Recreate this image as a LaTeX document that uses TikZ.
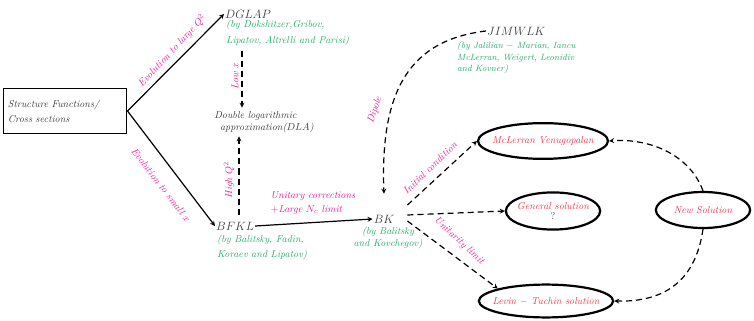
\documentclass[tikz,border=0pt]{standalone}
\usepackage{tikz}
\usepackage{xcolor}
\usetikzlibrary{shapes,arrows,positioning,calc}

\definecolor{labmag}{RGB}{228,30,160}
\definecolor{bygreen}{RGB}{40,170,110}
\definecolor{solred}{RGB}{235,55,80}
\definecolor{txtgray}{RGB}{60,60,60}

\begin{document}
\begin{tikzpicture}[x=0.035cm,y=-0.035cm,>=stealth,
  lab/.style={text=labmag, font=\itshape, inner sep=0pt},
  by/.style={text=bygreen, font=\itshape, align=left, inner sep=0pt},
  eqn/.style={text=txtgray, font=\large, inner sep=1pt},
  soln/.style={ellipse, draw, line width=2.2pt, text=solred, font=\itshape, inner xsep=-6pt},
  dasharr/.style={->, dashed, line width=1.2pt, dash pattern=on 6pt off 4pt}]
\useasboundingbox (0,0) rectangle (754,321);

\node[rectangle, draw, line width=1pt, text width=4.0cm, inner xsep=0.17cm, minimum height=1.6cm, align=left, text=txtgray, font=\itshape] (sf) at (65,111) {Structure Functions/\\[3pt]Cross sections};

\node[eqn, anchor=west] (dglap) at (224,14) {$DGLAP$};
\node[by, anchor=north west] (dglapby) at (226,20) {(by Dokshitzer,Gribov,\\[4pt]Lipatov, Altrelli and Parisi)};

\node[text=txtgray, font=\itshape, align=left] (dla) at (264,122) {Double logarithmic\\\hspace{2mm}approximation($DLA$)};

\node[eqn, anchor=west] (bfkl) at (215,226) {$BFKL$};
\node[by, anchor=north west] (bfklby) at (217,235) {(by Balitsky, Fadin,\\[3pt]Koraev and Lipatov)};

\node[eqn] (bk) at (384,219) {$BK$};
\node[by, align=center] (bkby) at (388,238) {(by Balitsky\\and Kovchegov)};

\node[eqn, anchor=west] (jimwlk) at (486,31) {$JIMWLK$};
\node[by, anchor=north west, font=\small\itshape] (jimwlkby) at (457,42) {(by Jalilian $-$ Marian, Iancu\\McLerran, Weigert, Leonidiv\\and Kovner)};

\node[soln, minimum width=4.55cm, minimum height=1.25cm] (mcl) at (543,141) {McLerran Venugopalan};
\node[soln, minimum width=3.3cm, minimum height=1.3cm, align=center] (gen) at (553,211) {General solution\\[-2pt]{\color{txtgray}\upshape ?}};
\node[soln, minimum width=3.3cm, minimum height=1.26cm] (new) at (703,210) {New Solution};
\node[soln, minimum width=4.5cm, minimum height=1.15cm] (levin) at (546,301) {Levin $-$ Tuchin solution};

% evolution from structure functions
\draw[->, line width=1.2pt] (sf.east) -- (dglap.west);
\draw[->, line width=1.2pt] (sf.east) -- (bfkl.west);
\node[lab, rotate=47] (lq) at (172,51) {Evolution to large $Q^2$};
\node[lab, rotate=-52] (sx) at (161,185) {Evolution to small $x$};

% towards DLA
\coordinate (lx) at ($(dglapby.south west)+(16,4)$);
\coordinate (hq) at ($(bfkl.north west)+(24,-6)$);
\draw[dasharr] (lx) -- (lx |- dla.north);
\draw[dasharr] (hq) -- (hq |- dla.south);
\node[lab, rotate=90] (lowx) at (235,76) {Low $x$};
\node[lab, rotate=90] (highq) at (229,180) {High $Q^2$};

% BFKL to BK
\draw[->, line width=1.2pt] (bfkl.east) -- (bk.west);
\node[lab, align=left] (uc) at (313,203) {Unitary corrections\\[2pt]$+$Large $N_c$ limit};

% JIMWLK to BK
\draw[dasharr] (jimwlk.west) .. controls (410,40) and (380,90) .. ($(bk.north)+(0,-20)$);
\node[lab, rotate=72] (dip) at (375,110) {Dipole};

% BK to solutions
\draw[dasharr] ($(bk.east)+(12,-14)$) -- (mcl.west);
\draw[dasharr] ($(bk.east)+(12,-4)$) -- (gen.west);
\draw[dasharr] ($(bk.east)+(12,2)$) -- (levin.north west);
\node[lab, rotate=44] (ic) at (430,168) {Initial condition};
\node[lab, rotate=-43] (ul) at (459,241) {Unitarity limit};

% new solution
\draw[dasharr] (new.north) .. controls (690,155) and (650,138) .. (mcl.east);
\draw[dasharr] (new.south) .. controls (695,285) and (660,302) .. (levin.east);
\end{tikzpicture}
\end{document}
